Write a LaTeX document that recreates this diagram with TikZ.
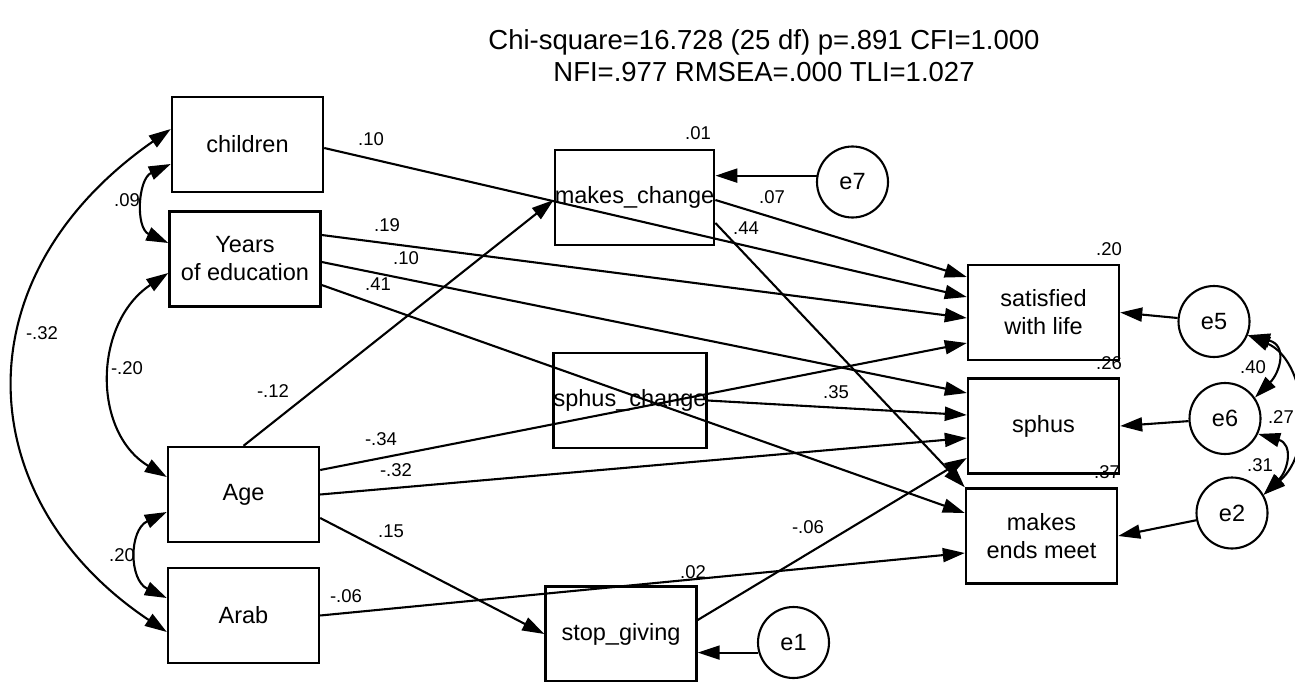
\documentclass[tikz,border=0pt]{standalone}
\usepackage{fontspec}
\setmainfont{Liberation Sans}
\usetikzlibrary{arrows.meta,calc}
\begin{document}
\begin{tikzpicture}[x=1pt,y=-1pt,
 box/.style={draw,line width=2.4pt,minimum width=151pt,minimum height=95pt,inner sep=0pt,font=\fontsize{23.5}{28}\selectfont,align=center},
 err/.style={draw,circle,line width=2.1pt,minimum size=71pt,inner sep=0pt,font=\fontsize{23.5}{28}\selectfont},
 lbl/.style={font=\fontsize{18.5}{20}\selectfont,inner sep=0pt},
 reg/.style={line width=2.1pt,-{Triangle[length=22pt,width=14pt]}},
 cov/.style={line width=2.1pt,{Triangle[length=22pt,width=14pt]}-{Triangle[length=22pt,width=14pt]}},
]
\useasboundingbox[fill=white] (0,0) rectangle (1295,682);
% title
\node[font=\fontsize{27.5}{32}\selectfont,align=center] (title) at (764,56) {Chi-square=16.728 (25 df) p=.891 CFI=1.000\\NFI=.977 RMSEA=.000 TLI=1.027};
% observed variables
\node[box] (ch) at (247.5,144.5) {children};
\node[box] (ye) at (245,259) {Years\\of education};
\node[box] (ag) at (243.5,494.5) {Age};
\node[box] (ar) at (243.5,615.5) {Arab};
\node[box] (mc) at (634.5,197.5) {makes\_change};
\node[box] (sc) at (630,400.5) {sphus\_change};
\node[box] (sg) at (621,634) {stop\_giving};
\node[box] (sat) at (1043.5,312.5) {satisfied\\with life};
\node[box] (sph) at (1043.5,426) {sphus};
\node[box] (mem) at (1041.5,536) {makes\\ends meet};
% errors
\node[err] (e7) at (852.5,182) {e7};
\node[err] (e5) at (1214,321.5) {e5};
\node[err] (e6) at (1225,418.5) {e6};
\node[err] (e2) at (1232,513) {e2};
\node[err] (e1) at (793.5,642.5) {e1};
% regression paths
\draw[reg] ([yshift=-3.5pt]ch.east) -- ([yshift=15.5pt]sat.west);
\draw[reg] ([yshift=-2.5pt]mc.east) -- ([yshift=35.5pt]sat.west);
\draw[reg] ([yshift=-25.5pt]mc.east) -- (mem.north west);
\draw[reg] ([yshift=24pt]ye.east) -- ([yshift=-5.5pt]sat.west);
\draw[reg] ([yshift=-3pt]ye.east) -- ([yshift=33pt]sph.west);
\draw[reg] ([yshift=-26pt]ye.east) -- ([yshift=23pt]mem.west);
\draw[reg] (sc.east) -- ([yshift=11pt]sph.west);
\draw[reg] ([yshift=24.5pt]ag.east) -- ([yshift=-30.5pt]sat.west);
\draw[reg] (ag.east) -- ([yshift=-12pt]sph.west);
\draw[reg] (ag.north) -- ([yshift=-2.5pt]mc.west);
\draw[reg] ([yshift=-23.5pt]ag.east) -- (sg.west);
\draw[reg] (ar.east) -- ([yshift=-17pt]mem.west);
\draw[reg] ([yshift=14pt]sg.east) -- ([yshift=-32pt]sph.west);
% error paths
\draw[reg] (e7.170) -- (e7.170 -| mc.east);
\draw[reg] (e5) -- (sat.east);
\draw[reg] (e6) -- (sph.east);
\draw[reg] (e2) -- (mem.east);
\draw[reg] (e1.196) -- (e1.196 -| sg.east);
% covariances
\draw[cov] ([yshift=-19.5pt]ch.west) .. controls +(-33,15) and +(-33,-15) .. ([yshift=16pt]ye.west);
\draw[cov] ([yshift=-14pt]ye.west) .. controls +(-75,50) and +(-75,-45) .. ([yshift=17.5pt]ag.west);
\draw[cov] ([yshift=15.5pt]ch.west) .. controls +(-215,150) and +(-195,-130) .. ([yshift=-16.5pt]ar.west);
\draw[cov] ([yshift=-17.5pt]ag.west) .. controls +(-38,18) and +(-38,-18) .. ([yshift=17.5pt]ar.west);
\draw[cov] (e5.-22) .. controls +(40,10) and +(25,-25) .. (e6.35);
\draw[cov] (e6.-25) .. controls +(35,10) and +(25,-25) .. (e2.30);
\draw[cov] (e5.-22) .. controls +(58,25) and +(52,-45) .. (e2.30);
% labels
\node[lbl] (l1) at (371,139) {.10};
\node[lbl] (l2) at (387,225) {.19};
\node[lbl] (l3) at (406,258) {.10};
\node[lbl] (l4) at (378,284) {.41};
\node[lbl] (l5) at (698,133) {.01};
\node[lbl] (l6) at (772,197) {.07};
\node[lbl] (l7) at (746,228) {.44};
\node[lbl] (l8) at (273,391) {-.12};
\node[lbl] (l9) at (127,368) {-.20};
\node[lbl] (l10) at (42,333) {-.32};
\node[lbl] (l11) at (127,200) {.09};
\node[lbl] (l12) at (122,555) {.20};
\node[lbl] (l13) at (381,439) {-.34};
\node[lbl] (l14) at (396,470) {-.32};
\node[lbl] (l15) at (391,531) {.15};
\node[lbl] (l16) at (346,596) {-.06};
\node[lbl] (l17) at (693,572) {.02};
\node[lbl] (l18) at (836,392) {.35};
\node[lbl] (l19) at (808,527) {-.06};
\node[lbl] (l20) at (1109,249) {.20};
\node[lbl] (l21) at (1109,363) {.26};
\node[lbl] (l22) at (1107,472) {.37};
\node[lbl] (l23) at (1253,367) {.40};
\node[lbl,anchor=east] (l24) at (1294,417) {.27};
\node[lbl] (l25) at (1260,465) {.31};
\end{tikzpicture}
\end{document}
